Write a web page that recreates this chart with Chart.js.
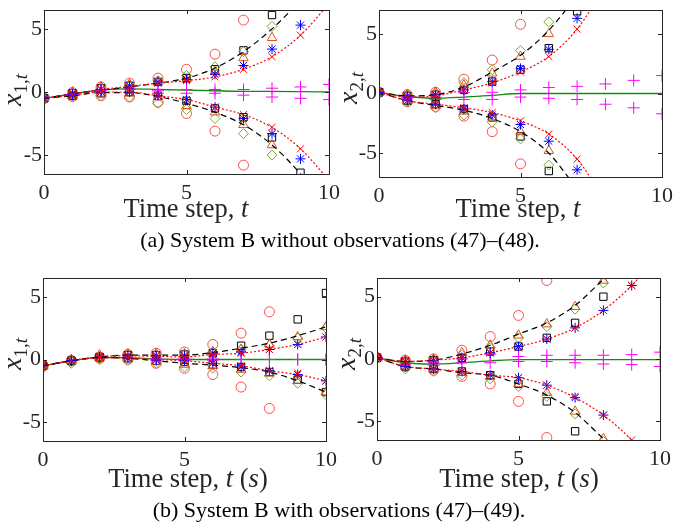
<!DOCTYPE html>
<html>
<head>
<meta charset="utf-8">
<script src="https://cdn.jsdelivr.net/npm/chart.js@4.4.0/dist/chart.umd.min.js"></script>
<style>
  body { margin: 0; background: #fff; width: 673px; height: 523px; position: relative; overflow: hidden;
         font-family: "Liberation Serif", "DejaVu Serif", serif; color: #262626; }
  canvas { position: absolute; }
  .ylab { position: absolute; transform: translate(-50%, -50%) rotate(-90deg); font-size: 28px; white-space: nowrap; }
  .ylab sub { font-size: 19px; }
  .xlab { position: absolute; transform: translate(-50%, -50%); font-size: 26.5px; white-space: nowrap; }
  .cap { position: absolute; transform: translate(-50%, -50%); font-size: 22px; white-space: nowrap; color: #000; }
</style>
</head>
<body>
<canvas id="aL" width="345" height="205" style="left:0;top:0"></canvas>
<canvas id="aR" width="338" height="205" style="left:335px;top:0"></canvas>
<canvas id="bL" width="345" height="205" style="left:0;top:268px"></canvas>
<canvas id="bR" width="338" height="205" style="left:335px;top:268px"></canvas>

<div class="ylab" style="left:14px;top:90px"><i>x</i><sub>1,<i>t</i></sub></div>
<div class="ylab" style="left:350px;top:88px"><i>x</i><sub>2,<i>t</i></sub></div>
<div class="ylab" style="left:14px;top:354px"><i>x</i><sub>1,<i>t</i></sub></div>
<div class="ylab" style="left:348px;top:354px"><i>x</i><sub>2,<i>t</i></sub></div>

<div class="xlab" style="left:186px;top:208px">Time step, <i>t</i></div>
<div class="xlab" style="left:518px;top:208px">Time step, <i>t</i></div>
<div class="xlab" style="left:188px;top:478px">Time step, <i>t</i> (<i>s</i>)</div>
<div class="xlab" style="left:519px;top:478px">Time step, <i>t</i> (<i>s</i>)</div>

<div class="cap" style="left:340px;top:240px">(a) System B without observations (47)–(48).</div>
<div class="cap" style="left:339px;top:510px">(b) System B with observations (47)–(49).</div>

<script>
const steps = [0, 1, 2, 3, 4, 5, 6, 7, 8, 9, 10];
const xTicks = [0, 5, 10];
const yTicks = [-5, 0, 5];

// (a) left: x_{1,t}
const aLCircleHi   = [-0.5, -0.05, 0.4, 0.7, 1.1, 1.8, 3.0, 5.7, null, null, null];
const aLCircleLo   = [-0.5, -0.35, -0.3, -0.4, -0.8, -1.7, -3.1, -5.8, null, null, null];
const aLSquareHi   = [-0.5, -0.1, 0.3, 0.5, 0.8, 1.1, 1.8, 3.3, 6.1, null, null];
const aLSquareLo   = [-0.5, -0.3, -0.1, 0.0, -0.3, -0.7, -1.3, -2.0, -3.6, -6.4, null];
const aLDiamondHi  = [-0.5, -0.1, 0.3, 0.6, 0.9, 1.3, 2.0, 3.2, 5.2, null, null];
const aLDiamondLo  = [-0.6, -0.4, -0.3, -0.4, -0.9, -1.4, -2.1, -3.3, -5.0, null, null];
const aLTriangleHi = [-0.4, 0.0, 0.4, 0.6, 0.8, 1.0, 1.6, 2.7, 4.3, null, null];
const aLTriangleLo = [-0.5, -0.3, -0.1, -0.1, -0.4, -1.1, -1.6, -2.6, -4.2, null, null];
const aLStarHi     = [-0.5, -0.15, 0.2, 0.5, 0.8, 1.0, 1.4, 2.1, 3.4, 5.3, null];
const aLStarLo     = [-0.5, -0.25, 0.0, 0.0, -0.3, -0.6, -1.2, -2.1, -3.3, -5.3, null];
const aLCrossHi    = [-0.5, -0.15, 0.2, 0.4, 0.7, 0.9, 1.2, 1.8, 2.8, 4.5, null];
const aLCrossLo    = [-0.5, -0.25, 0.0, 0.0, -0.3, -0.6, -1.2, -1.8, -2.8, -4.5, null];
const aLPlusHi     = [-0.5, -0.2, 0.2, 0.3, 0.1, 0.2, 0.2, 0.2, 0.3, 0.4, 0.6];
const aLPlusLo     = [-0.5, -0.2, 0.1, 0.2, -0.1, -0.1, -0.1, -0.25, -0.4, -0.5, -0.6];
const aLDashHi     = [-0.5, -0.15, 0.15, 0.4, 0.7, 1.1, 1.9, 3.2, 5.0, 7.3, 10];
const aLDashLo     = [-0.5, -0.3, -0.05, -0.05, -0.35, -0.9, -1.6, -2.6, -4.2, -6.5, -9.5];
const aLDotHi      = [-0.5, -0.15, 0.2, 0.45, 0.7, 0.9, 1.2, 1.8, 2.8, 4.5, 7.0];
const aLDotLo      = [-0.5, -0.25, 0.0, 0.0, -0.3, -0.6, -1.2, -1.8, -2.8, -4.5, -7.0];
const aLMean       = [-0.5, -0.15, 0.15, 0.25, 0.2, 0.15, 0.1, 0.05, 0.05, 0.03, 0.0];

// (a) right: x_{2,t}
const aRCircleHi   = [0.1, -0.1, 0.1, 1.2, 2.8, 5.8, null, null, null, null, null];
const aRCircleLo   = [0.1, -0.7, -1.1, -1.9, -3.2, -5.9, null, null, null, null, null];
const aRSquareHi   = [0.1, -0.2, -0.1, 0.3, 1.0, 2.0, 3.8, 6.9, null, null, null];
const aRSquareLo   = [0.1, -0.6, -0.9, -1.3, -2.0, -3.6, -6.5, null, null, null, null];
const aRDiamondHi  = [0.1, -0.1, 0.0, 0.9, 2.0, 3.6, 6.0, null, null, null, null];
const aRDiamondLo  = [0.0, -0.7, -1.2, -1.8, -2.4, -3.8, -6.0, null, null, null, null];
const aRTriangleHi = [0.2, -0.1, 0.1, 0.7, 1.7, 3.1, 5.0, null, null, null, null];
const aRTriangleLo = [0.1, -0.6, -1.0, -1.5, -2.0, -3.2, -4.8, null, null, null, null];
const aRStarHi     = [0.1, -0.2, -0.1, 0.3, 1.0, 2.1, 3.7, 6.3, null, null, null];
const aRStarLo     = [0.1, -0.6, -0.9, -1.3, -1.8, -2.6, -4.0, -6.4, null, null, null];
const aRCrossHi    = [0.1, -0.3, -0.2, 0.3, 0.9, 1.8, 3.1, 5.4, null, null, null];
const aRCrossLo    = [0.1, -0.6, -0.9, -1.2, -1.6, -2.3, -3.4, -5.5, null, null, null];
const aRPlusHi     = [0.1, -0.3, -0.3, 0.1, 0.1, 0.3, 0.5, 0.6, 0.8, 1.1, 1.5];
const aRPlusLo     = [0.1, -0.4, -0.5, -0.5, -0.5, -0.3, -0.4, -0.5, -0.9, -1.2, -1.7];
const aRDashHi     = [0.1, -0.2, -0.1, 0.55, 1.8, 3.2, 5.3, 8.2, null, null, null];
const aRDashLo     = [0.1, -0.6, -1.0, -1.4, -2.1, -3.2, -5.0, -8.0, null, null, null];
const aRDotHi      = [0.1, -0.3, -0.2, 0.3, 0.9, 1.8, 3.1, 5.4, 9.0, null, null];
const aRDotLo      = [0.1, -0.6, -0.9, -1.2, -1.6, -2.3, -3.4, -5.5, -9.0, null, null];
const aRMean       = [0.1, -0.25, -0.4, -0.3, -0.15, 0.0, 0.0, 0.0, 0.0, 0.0, 0.0];

// (b) left: x_{1,t}
const bLCircleHi   = [-0.5, -0.1, 0.2, 0.4, 0.5, 0.6, 1.2, 2.1, 3.8, null, null];
const bLCircleLo   = [-0.5, -0.1, 0.1, 0.0, -0.3, -0.7, -1.2, -2.2, -3.9, null, null];
const bLSquareHi   = [-0.5, -0.1, 0.2, 0.35, 0.35, 0.4, 0.5, 1.1, 1.9, 3.2, 5.3];
const bLSquareLo   = [-0.5, -0.1, 0.15, 0.1, -0.1, -0.2, -0.4, -0.6, -1.0, -1.6, -2.6];
const bLDiamondHi  = [-0.55, -0.15, 0.1, 0.35, 0.4, 0.4, 0.6, 0.8, 1.1, 1.7, 2.5];
const bLDiamondLo  = [-0.7, -0.3, 0.0, -0.05, -0.3, -0.6, -0.7, -1.0, -1.3, -1.9, -2.8];
const bLTriangleHi = [-0.4, 0.0, 0.35, 0.45, 0.45, 0.45, 0.6, 0.8, 1.2, 1.8, 2.6];
const bLTriangleLo = [-0.5, -0.1, 0.15, 0.05, -0.15, -0.4, -0.5, -0.8, -1.1, -1.7, -2.6];
const bLStarHi     = [-0.5, -0.1, 0.2, 0.3, 0.3, 0.3, 0.5, 0.6, 0.8, 1.2, 1.8];
const bLStarLo     = [-0.5, -0.1, 0.15, 0.1, -0.05, -0.1, -0.3, -0.6, -0.9, -1.2, -1.7];
const bLCrossHi    = [-0.5, -0.1, 0.2, 0.3, 0.3, 0.2, 0.4, 0.5, 0.8, 1.2, 1.8];
const bLCrossLo    = [-0.5, -0.1, 0.15, 0.1, 0.0, -0.1, -0.3, -0.5, -0.9, -1.1, -1.7];
const bLPlusHi     = [null, null, null, null, 0.1, 0.05, 0.05, 0.0, 0.0, 0.0, 0.0];
const bLPlusLo     = [null, null, null, null, -0.05, -0.05, -0.05, 0.0, 0.0, 0.0, 0.0];
const bLDashHi     = [-0.5, -0.1, 0.2, 0.35, 0.35, 0.35, 0.55, 0.9, 1.3, 1.9, 2.6];
const bLDashLo     = [-0.5, -0.1, 0.15, 0.1, -0.1, -0.3, -0.45, -0.65, -1.0, -1.7, -2.6];
const bLDotHi      = [-0.5, -0.1, 0.2, 0.3, 0.25, 0.2, 0.4, 0.5, 0.8, 1.2, 1.8];
const bLDotLo      = [-0.5, -0.1, 0.15, 0.1, 0.0, -0.1, -0.3, -0.5, -0.9, -1.2, -1.7];
const bLMean       = [-0.5, -0.1, 0.15, 0.15, 0.05, 0.0, 0.0, 0.0, 0.0, 0.0, 0.0];

// (b) right: x_{2,t}
const bRCircleHi   = [0.1, -0.1, 0.0, 0.7, 1.8, 3.5, 6.3, null, null, null, null];
const bRCircleLo   = [0.1, -0.6, -0.9, -1.4, -2.0, -3.4, -6.3, null, null, null, null];
const bRSquareHi   = [0.1, -0.2, -0.1, 0.1, 0.6, 1.0, 1.7, 2.9, 5.0, null, null];
const bRSquareLo   = [0.1, -0.6, -0.8, -1.0, -1.3, -2.0, -3.4, -5.8, null, null, null];
const bRDiamondHi  = [0.0, -0.3, -0.2, 0.3, 0.9, 1.7, 2.6, 4.0, 6.1, null, null];
const bRDiamondLo  = [0.0, -0.8, -1.0, -1.3, -1.6, -2.2, -3.0, -4.4, -6.6, null, null];
const bRTriangleHi = [0.1, -0.1, 0.0, 0.5, 1.1, 1.9, 2.8, 4.2, 6.3, null, null];
const bRTriangleLo = [0.1, -0.6, -0.8, -1.1, -1.4, -2.0, -2.7, -4.2, -6.4, null, null];
const bRStarHi     = [0.1, -0.2, -0.1, 0.1, 0.5, 1.0, 1.6, 2.5, 3.9, 5.9, null];
const bRStarLo     = [0.1, -0.6, -0.8, -1.0, -1.3, -1.5, -2.1, -3.1, -4.5, null, null];
const bRCrossHi    = [0.1, -0.2, -0.1, 0.1, 0.5, 0.9, 1.6, 2.5, 3.9, 5.9, null];
const bRCrossLo    = [0.1, -0.6, -0.8, -1.0, -1.3, -1.5, -2.1, -3.0, -4.5, -6.5, null];
const bRPlusHi     = [0.1, -0.2, -0.3, 0.0, 0.4, 0.2, 0.3, 0.3, 0.3, 0.35, 0.55];
const bRPlusLo     = [0.1, -0.4, -0.5, -0.3, -0.3, -0.2, -0.2, -0.3, -0.4, -0.45, -0.6];
const bRDashHi     = [0.1, -0.2, -0.1, 0.4, 1.1, 2.0, 2.9, 4.3, 6.4, null, null];
const bRDashLo     = [0.1, -0.6, -0.8, -1.1, -1.3, -2.0, -2.9, -4.3, -6.4, null, null];
const bRDotHi      = [0.1, -0.2, -0.1, 0.1, 0.5, 1.0, 1.6, 2.5, 3.9, 5.9, 8.5];
const bRDotLo      = [0.1, -0.6, -0.8, -1.0, -1.3, -1.5, -2.1, -3.1, -4.5, -6.5, -9.0];
const bRMean       = [0.1, -0.3, -0.4, -0.3, -0.15, -0.05, -0.05, -0.05, -0.05, -0.05, -0.05];

const axisColor = '#262626';
const tickFont = { family: '"Liberation Serif", serif', size: 22 };

// marker looks, bottom to top
const markerKinds = [
  { key: 'Circle',   style: 'circle',   color: '#ff4a4a', r: 5 },
  { key: 'Square',   style: 'rect',     color: '#000000', r: 5.2 },
  { key: 'Diamond',  style: 'rectRot',  color: '#77ac30', r: 5 },
  { key: 'Triangle', style: 'triangle', color: '#d95319', r: 5.5 }
];
const topKinds = [
  { key: 'Plus',  style: 'cross',    color: '#ff00ff', r: 6 },
  { key: 'Star',  style: 'star',     color: '#0000ff', r: 5 },
  { key: 'Cross', style: 'crossRot', color: '#ff0000', r: 5 }
];

function toPoints(arr) {
  const pts = [];
  arr.forEach((v, i) => { if (v !== null) pts.push({ x: steps[i], y: v }); });
  return pts;
}

function markerSets(p, kind) {
  return ['Hi', 'Lo'].map(side => ({
    data: toPoints(p[kind.key + side]),
    showLine: false,
    pointStyle: kind.style,
    pointRadius: kind.r,
    pointBorderColor: kind.color,
    pointBackgroundColor: 'rgba(0,0,0,0)',
    pointBorderWidth: 1
  }));
}

function lineSet(arr, color, dash, width) {
  return {
    data: toPoints(arr),
    showLine: true,
    borderColor: color,
    borderWidth: width,
    borderDash: dash,
    pointRadius: 0,
    cubicInterpolationMode: 'monotone'
  };
}

function buildDatasets(p) {
  let sets = [];
  markerKinds.forEach(k => { sets = sets.concat(markerSets(p, k)); });
  sets.push(lineSet(p.Mean, '#138a13', [], 1.3));
  sets.push(lineSet(p.DashHi, '#000000', [6, 4], 1.2));
  sets.push(lineSet(p.DashLo, '#000000', [6, 4], 1.2));
  sets.push(lineSet(p.DotHi, '#ff0000', [2, 2], 1.2));
  sets.push(lineSet(p.DotLo, '#ff0000', [2, 2], 1.2));
  topKinds.forEach(k => { sets = sets.concat(markerSets(p, k)); });
  // higher order is drawn first, so give the first entries the biggest order
  sets.forEach((s, i) => { s.order = sets.length - i; });
  return sets;
}

// box with inward tick marks on all four sides
const frame = {
  id: 'frame',
  afterDraw(chart) {
    const { ctx, chartArea: a, scales: { x, y } } = chart;
    ctx.save();
    ctx.strokeStyle = axisColor;
    ctx.lineWidth = 1;
    ctx.strokeRect(Math.round(a.left) + 0.5, Math.round(a.top) + 0.5,
                   Math.round(a.right - a.left), Math.round(a.bottom - a.top));
    ctx.beginPath();
    xTicks.forEach(v => {
      const px = Math.round(x.getPixelForValue(v)) + 0.5;
      ctx.moveTo(px, a.bottom); ctx.lineTo(px, a.bottom - 4);
      ctx.moveTo(px, a.top); ctx.lineTo(px, a.top + 4);
    });
    yTicks.forEach(v => {
      const py = Math.round(y.getPixelForValue(v)) + 0.5;
      ctx.moveTo(a.left, py); ctx.lineTo(a.left + 4, py);
      ctx.moveTo(a.right, py); ctx.lineTo(a.right - 4, py);
    });
    ctx.stroke();
    ctx.restore();
  }
};

function makePane(id, p, yLim, box) {
  new Chart(document.getElementById(id), {
    type: 'scatter',
    data: { datasets: buildDatasets(p) },
    options: {
      responsive: false,
      animation: false,
      layout: { padding: { top: box.top, right: box.right, left: 0, bottom: 0 } },
      plugins: { legend: { display: false }, tooltip: { enabled: false } },
      scales: {
        x: {
          type: 'linear', min: 0, max: 10,
          afterBuildTicks: s => { s.ticks = xTicks.map(v => ({ value: v })); },
          afterFit: s => { s.height = box.xh; s.paddingLeft = 0; s.paddingRight = 0; },
          grid: { display: false, drawTicks: false },
          border: { display: false },
          ticks: { font: tickFont, color: axisColor, padding: 6, maxRotation: 0 }
        },
        y: {
          type: 'linear', min: -yLim, max: yLim,
          afterBuildTicks: s => { s.ticks = yTicks.map(v => ({ value: v })); },
          afterFit: s => { s.width = box.yw; s.paddingTop = 0; s.paddingBottom = 0; },
          grid: { display: false, drawTicks: false },
          border: { display: false },
          ticks: { font: tickFont, color: axisColor, padding: 2 }
        }
      }
    },
    plugins: [frame]
  });
}

function pane(src) {
  const keys = ['CircleHi', 'CircleLo', 'SquareHi', 'SquareLo', 'DiamondHi', 'DiamondLo',
                'TriangleHi', 'TriangleLo', 'StarHi', 'StarLo', 'CrossHi', 'CrossLo',
                'PlusHi', 'PlusLo', 'DashHi', 'DashLo', 'DotHi', 'DotLo', 'Mean'];
  const p = {};
  keys.forEach((k, i) => { p[k] = src[i]; });
  return p;
}

makePane('aL', pane([aLCircleHi, aLCircleLo, aLSquareHi, aLSquareLo, aLDiamondHi, aLDiamondLo,
  aLTriangleHi, aLTriangleLo, aLStarHi, aLStarLo, aLCrossHi, aLCrossLo, aLPlusHi, aLPlusLo,
  aLDashHi, aLDashLo, aLDotHi, aLDotLo, aLMean]), 6.5, { top: 10, right: 16, yw: 44, xh: 31 });

makePane('aR', pane([aRCircleHi, aRCircleLo, aRSquareHi, aRSquareLo, aRDiamondHi, aRDiamondLo,
  aRTriangleHi, aRTriangleLo, aRStarHi, aRStarLo, aRCrossHi, aRCrossLo, aRPlusHi, aRPlusLo,
  aRDashHi, aRDashLo, aRDotHi, aRDotLo, aRMean]), 7, { top: 10, right: 11, yw: 44, xh: 28 });

makePane('bL', pane([bLCircleHi, bLCircleLo, bLSquareHi, bLSquareLo, bLDiamondHi, bLDiamondLo,
  bLTriangleHi, bLTriangleLo, bLStarHi, bLStarLo, bLCrossHi, bLCrossLo, bLPlusHi, bLPlusLo,
  bLDashHi, bLDashLo, bLDotHi, bLDotLo, bLMean]), 6.5, { top: 10, right: 19, yw: 43, xh: 32 });

makePane('bR', pane([bRCircleHi, bRCircleLo, bRSquareHi, bRSquareLo, bRDiamondHi, bRDiamondLo,
  bRTriangleHi, bRTriangleLo, bRStarHi, bRStarLo, bRCrossHi, bRCrossLo, bRPlusHi, bRPlusLo,
  bRDashHi, bRDashLo, bRDotHi, bRDotLo, bRMean]), 6.5, { top: 10, right: 13, yw: 42, xh: 33 });
</script>
</body>
</html>
